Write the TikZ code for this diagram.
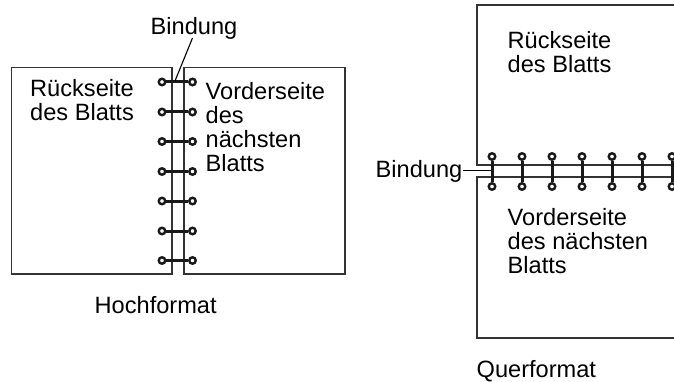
\documentclass[tikz,border=0pt]{standalone}
\usepackage{fontspec}
\setmainfont{Liberation Sans}
\tikzset{
  page/.style={draw=black!80,line width=1.4pt,line join=miter},
  ringbar/.style={draw=black!90,line width=3pt},
  eyelet/.style={circle,draw=black!90,fill=white,line width=2.4pt,minimum size=6.5pt,inner sep=0pt},
  lbl/.style={inner sep=0pt,align=left,font=\fontsize{23.6}{24.2}\selectfont,text=black},
  leader/.style={draw=black,line width=1.1pt}
}
\begin{document}
\begin{tikzpicture}[x=1pt,y=-1pt]
\useasboundingbox (0,0) rectangle (674,382);
% Hochformat
\draw[page] (172,274) -- (172,67.5) -- (11.5,67.5) -- (11.5,274) -- cycle;
\draw[page] (184,67.5) -- (345,67.5) -- (345,274) -- (184,274) -- cycle;
\foreach \i/\yy in {1/82,2/112,3/141.5,4/171.5,5/201,6/231,7/260.5}{
  \node[eyelet] (pa\i) at (162,\yy) {};
  \node[eyelet] (pb\i) at (192.5,\yy) {};
  \draw[ringbar] (pa\i) -- (pb\i);
}
\node[lbl,anchor=base west] (pbind) at (150.5,34.5) {Bindung};
\coordinate (pfoot) at (192.5,38);
\coordinate (pfirst) at (175,81);
\draw[leader] (pfoot) -- (pfirst);
\node[lbl,anchor=north west] (pback) at (30,79.5) {Rückseite\\des Blatts};
\node[lbl,anchor=north west] (pfront) at (205.5,82) {Vorderseite\\des\\nächsten\\Blatts};
\node[lbl,anchor=base west] (pcap) at (94.5,313) {Hochformat};
% Querformat
\draw[page] (674,5) -- (477,5) -- (477,165) -- (674,165);
\draw[page] (674,177) -- (477,177) -- (477,338) -- (674,338);
\foreach \i/\xx in {1/492,2/522,3/552,4/582,5/612,6/642,7/672}{
  \node[eyelet] (la\i) at (\xx,156.5) {};
  \node[eyelet] (lb\i) at (\xx,186.5) {};
  \draw[ringbar] (la\i) -- (lb\i);
}
\node[lbl,anchor=base west] (lbind) at (375.5,177.5) {Bindung};
\coordinate (lbar) at (491,170.5);
\coordinate (lstart) at (lbind.east |- lbar);
\draw[leader,line width=1.6pt] (lstart) -- (lbar);
\node[lbl,anchor=north west] (lback) at (507.5,31) {Rückseite\\des Blatts};
\node[lbl,anchor=north west] (lfront) at (507.5,208) {Vorderseite\\des nächsten\\Blatts};
\node[lbl,anchor=base west] (lcap) at (476.5,377) {Querformat};
\end{tikzpicture}
\end{document}
